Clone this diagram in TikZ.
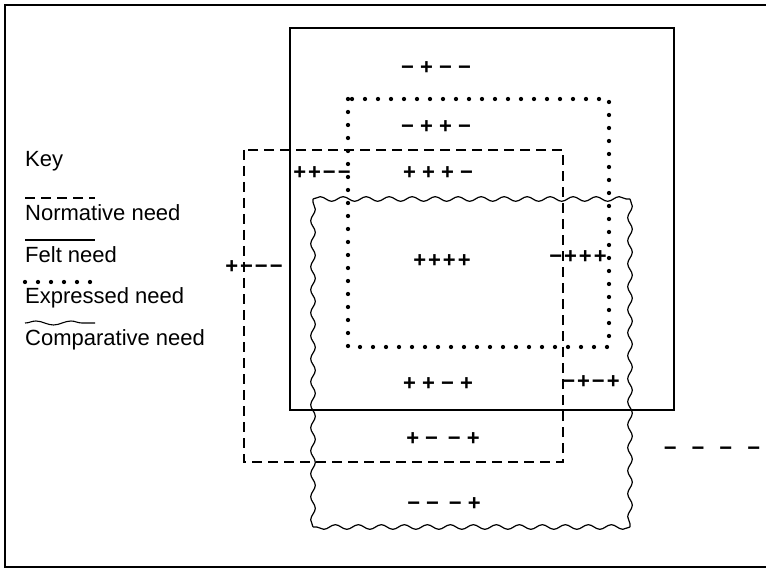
\documentclass[tikz,border=0pt]{standalone}
\usepackage{fontspec}
\setmainfont{Liberation Sans}
\usetikzlibrary{decorations.pathmorphing}

\newcommand\gp{\hspace{2pt}}
\tikzset{
  normative/.style={line width=1.3pt,dash pattern=on 10pt off 6pt},
  felt/.style={line width=1.3pt},
  expressed/.style={line width=4.3pt,line cap=round,dash pattern=on 0pt off 13pt},
  comparative/.style={line width=1.2pt,decorate,decoration={snake,segment length=23pt,amplitude=2.3pt}},
  signs/.style={font=\bfseries\fontsize{22}{24}\selectfont,anchor=base,inner sep=0pt},
  keytext/.style={font=\fontsize{22}{26}\selectfont,anchor=base west,inner sep=0pt}
}

\begin{document}
\begin{tikzpicture}[x=1pt,y=-1pt]
\useasboundingbox (0,0) rectangle (766,572);
% frame
\draw[line width=1.6pt] (766,5) -- (5,5) -- (5,567) -- (766,567);
% the four needs
\draw[felt] (290,28) rectangle (674,410);
\draw[expressed] (348,99) rectangle (609,347);
\draw[normative] (244,150) rectangle (563,462);
\draw[comparative] (313,199) -- (630,199);
\draw[comparative] (630,199) -- (630,527);
\draw[comparative] (630,527) -- (313,527);
\draw[comparative] (313,527) -- (313,199);
% key
\node[keytext] (key) at (25,167) {Key};
\draw[normative] (25,198) -- (95,198);
\node[keytext] (normkey) at (25,221) {Normative need};
\draw[felt] (25,240) -- (95,240);
\node[keytext] (feltkey) at (25,262) {Felt need};
\draw[expressed] (25,282) -- (95,282);
\node[keytext] (exprkey) at (25,303) {Expressed need};
\draw[line width=1.1pt,decorate,decoration={snake,segment length=35pt,amplitude=2pt}] (25,323) -- (95,323);
\node[keytext] (compkey) at (25,345) {Comparative need};
% sign patterns
\node[signs] (mpmm) at (436,75) {− + − −};
\node[signs] (mppm) at (436,134) {− + + −};
\node[signs] (pppm) at (438,180) {+ + + −};
\node[signs] (ppmm) at (322,180) {+\gp+\gp−\gp−};
\node[signs] (pmmm) at (254,273) {+\gp−\gp−\gp−};
\node[signs] (pppp) at (442,268) {+\gp+\gp+\gp+};
\node[signs] (mppp) at (578,264) {−\gp+\gp+\gp+};
\node[signs] (ppmp) at (438,390) {+ + − +};
\node[signs] (mpmp) at (591,388) {−\gp+\gp−\gp+};
\node[signs] (pmmp) at (443,445) {+ − \,− +};
\node[signs] (mmmp) at (444,510) {− − \,− +};
\node[signs] (mmmm) at (712,455) {−\hspace{15pt}−\hspace{15pt}−\hspace{15pt}−};
\end{tikzpicture}
\end{document}
